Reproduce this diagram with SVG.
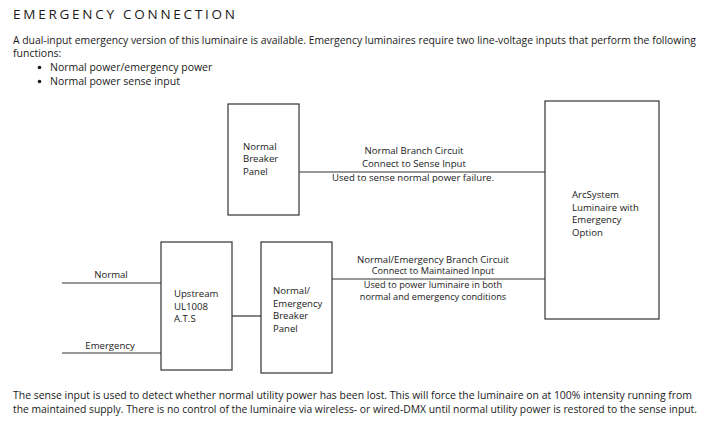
<svg xmlns="http://www.w3.org/2000/svg" width="714" height="424" viewBox="0 0 714 424">
<style>
text{font-family:"Open Sans","Noto Sans","Liberation Sans",sans-serif;fill:#1a1a1a}
.t{font-size:13.5px}
.b{font-size:10.5px}
.d{font-size:9.6px}
.s{font-size:9.2px}
.c{text-anchor:middle}
.box{fill:#fff;stroke:#333;stroke-width:1.2}
.ln{stroke:#333;stroke-width:1.2;fill:none}
</style>
<rect width="714" height="424" fill="#fff"/>
<text class="t" x="13" y="19" textLength="222" lengthAdjust="spacing">EMERGENCY CONNECTION</text>
<text class="b" x="13" y="44" textLength="683" lengthAdjust="spacingAndGlyphs">A dual-input emergency version of this luminaire is available. Emergency luminaires require two line-voltage inputs that perform the following</text>
<text class="b" x="13" y="57">functions:</text>
<circle cx="39.5" cy="67.5" r="1.8" fill="#1a1a1a"/>
<text class="b" x="50" y="71">Normal power/emergency power</text>
<circle cx="39.5" cy="81.5" r="1.8" fill="#1a1a1a"/>
<text class="b" x="50" y="85">Normal power sense input</text>

<g id="connectors">
<line class="ln" x1="299" y1="172" x2="545" y2="172"/>
<line class="ln" x1="332" y1="279" x2="545" y2="279"/>
<line class="ln" x1="232" y1="316" x2="261" y2="316"/>
<line class="ln" x1="62" y1="283" x2="161" y2="283"/>
<line class="ln" x1="62" y1="353" x2="161" y2="353"/>
<text class="d c" x="414" y="154">Normal Branch Circuit</text>
<text class="d c" x="414" y="167">Connect to Sense Input</text>
<text class="d c" x="413" y="181">Used to sense normal power failure.</text>
<text class="s c" x="433" y="262.5" textLength="152" lengthAdjust="spacingAndGlyphs">Normal/Emergency Branch Circuit</text>
<text class="s c" x="433" y="274">Connect to Maintained Input</text>
<text class="s c" x="433" y="288">Used to power luminaire in both</text>
<text class="s c" x="433" y="299.5">normal and emergency conditions</text>
<text class="d c" x="111" y="278">Normal</text>
<text class="d c" x="110" y="349">Emergency</text>
</g>

<g id="normal-breaker-panel">
<rect class="box" x="228" y="104" width="71" height="111"/>
<text class="d" x="243" y="150">Normal</text>
<text class="d" x="243" y="162">Breaker</text>
<text class="d" x="243" y="174.5">Panel</text>
</g>

<g id="arcsystem-luminaire">
<rect class="box" x="545" y="101" width="114" height="218"/>
<text class="d" x="572" y="198">ArcSystem</text>
<text class="d" x="572" y="210.5">Luminaire with</text>
<text class="d" x="572" y="223">Emergency</text>
<text class="d" x="572" y="235.5">Option</text>
</g>

<g id="upstream-ats">
<rect class="box" x="161" y="242" width="71" height="128"/>
<text class="d" x="174" y="297">Upstream</text>
<text class="d" x="174" y="309.5">UL1008</text>
<text class="d" x="174" y="322">A.T.S</text>
</g>

<g id="ne-breaker-panel">
<rect class="box" x="261" y="242" width="71" height="131"/>
<text class="d" x="273" y="294">Normal/</text>
<text class="d" x="273" y="306.5">Emergency</text>
<text class="d" x="273" y="319">Breaker</text>
<text class="d" x="273" y="331.5">Panel</text>
</g>

<text class="b" x="13" y="399" textLength="679" lengthAdjust="spacingAndGlyphs">The sense input is used to detect whether normal utility power has been lost. This will force the luminaire on at 100% intensity running from</text>
<text class="b" x="13" y="413" textLength="684" lengthAdjust="spacingAndGlyphs">the maintained supply. There is no control of the luminaire via wireless- or wired-DMX until normal utility power is restored to the sense input.</text>
</svg>
